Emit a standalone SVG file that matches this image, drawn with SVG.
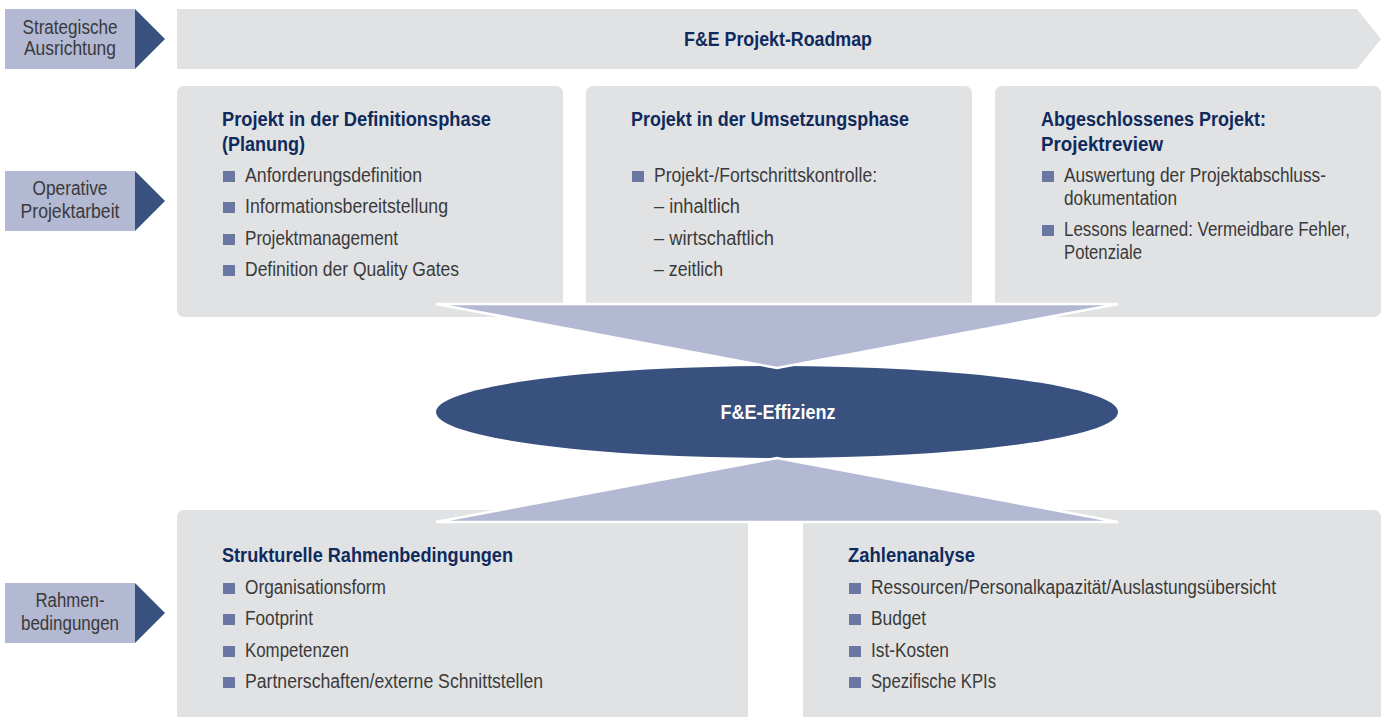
<svg xmlns="http://www.w3.org/2000/svg" width="1389" height="717" viewBox="0 0 1389 717">
  <style>
    .panel { fill: #e1e2e4; }
    .tag { fill: #b3b8d3; }
    .tip { fill: #38517f; }
    .funnel { fill: #b3b8d3; stroke: #ffffff; stroke-width: 2.5; stroke-linejoin: miter; }
    .hub { fill: #38517f; }
    text { font-family: "Liberation Sans", Arial, sans-serif; }
    .lbl { font-size: 19.5px; fill: #3a3a3a; text-anchor: middle; }
    .head { font-size: 20px; font-weight: bold; fill: #0f2a5c; }
    .body { font-size: 20px; fill: #3a3a3a; }
    .bul { fill: #6b77a3; }
    .hubtxt { font-size: 20px; font-weight: bold; fill: #ffffff; text-anchor: middle; }
  </style>

  <!-- row labels -->
  <g id="label-strategie">
    <rect class="tag" x="5" y="9" width="130" height="60"/>
    <polygon class="tip" points="135,9 165,39 135,69"/>
    <text class="lbl" x="70" y="34" textLength="95" lengthAdjust="spacingAndGlyphs">Strategische</text>
    <text class="lbl" x="70" y="55" textLength="92" lengthAdjust="spacingAndGlyphs">Ausrichtung</text>
  </g>
  <g id="label-operativ">
    <rect class="tag" x="5" y="171" width="130" height="60"/>
    <polygon class="tip" points="135,171 165,201 135,231"/>
    <text class="lbl" x="70" y="195" textLength="75" lengthAdjust="spacingAndGlyphs">Operative</text>
    <text class="lbl" x="70" y="218" textLength="99" lengthAdjust="spacingAndGlyphs">Projektarbeit</text>
  </g>
  <g id="label-rahmen">
    <rect class="tag" x="5" y="583" width="130" height="60"/>
    <polygon class="tip" points="135,583 165,613 135,643"/>
    <text class="lbl" x="70" y="607" textLength="69" lengthAdjust="spacingAndGlyphs">Rahmen-</text>
    <text class="lbl" x="70" y="630" textLength="98" lengthAdjust="spacingAndGlyphs">bedingungen</text>
  </g>

  <!-- roadmap band -->
  <g id="roadmap">
    <polygon class="panel" points="177,9 1357,9 1381,39 1357,69 177,69"/>
    <text class="head" x="778" y="46" text-anchor="middle" textLength="188" lengthAdjust="spacingAndGlyphs">F&amp;E Projekt-Roadmap</text>
  </g>

  <!-- project phase panels -->
  <g id="phase-definition">
    <rect class="panel" x="177" y="86" width="386" height="231" rx="7"/>
    <text class="head" x="222" y="126" textLength="269" lengthAdjust="spacingAndGlyphs">Projekt in der Definitionsphase</text>
    <text class="head" x="222" y="151" textLength="83" lengthAdjust="spacingAndGlyphs">(Planung)</text>
    <rect class="bul" x="223" y="171" width="12" height="11"/>
    <text class="body" x="245" y="182" textLength="177" lengthAdjust="spacingAndGlyphs">Anforderungsdefinition</text>
    <rect class="bul" x="223" y="202" width="12" height="11"/>
    <text class="body" x="245" y="213" textLength="203" lengthAdjust="spacingAndGlyphs">Informationsbereitstellung</text>
    <rect class="bul" x="223" y="234" width="12" height="11"/>
    <text class="body" x="245" y="245" textLength="153" lengthAdjust="spacingAndGlyphs">Projektmanagement</text>
    <rect class="bul" x="223" y="265" width="12" height="11"/>
    <text class="body" x="245" y="276" textLength="214" lengthAdjust="spacingAndGlyphs">Definition der Quality Gates</text>
  </g>

  <g id="phase-umsetzung">
    <rect class="panel" x="586" y="86" width="386" height="231" rx="7"/>
    <text class="head" x="631" y="126" textLength="278" lengthAdjust="spacingAndGlyphs">Projekt in der Umsetzungsphase</text>
    <rect class="bul" x="632" y="171" width="12" height="11"/>
    <text class="body" x="654" y="182" textLength="223" lengthAdjust="spacingAndGlyphs">Projekt-/Fortschrittskontrolle:</text>
    <text class="body" x="654" y="213" textLength="86" lengthAdjust="spacingAndGlyphs">– inhaltlich</text>
    <text class="body" x="654" y="245" textLength="120" lengthAdjust="spacingAndGlyphs">– wirtschaftlich</text>
    <text class="body" x="654" y="276" textLength="69" lengthAdjust="spacingAndGlyphs">– zeitlich</text>
  </g>

  <g id="phase-review">
    <rect class="panel" x="995" y="86" width="386" height="231" rx="7"/>
    <text class="head" x="1041" y="126" textLength="225" lengthAdjust="spacingAndGlyphs">Abgeschlossenes Projekt:</text>
    <text class="head" x="1041" y="151" textLength="122" lengthAdjust="spacingAndGlyphs">Projektreview</text>
    <rect class="bul" x="1042" y="171" width="12" height="11"/>
    <text class="body" x="1064" y="182" textLength="262" lengthAdjust="spacingAndGlyphs">Auswertung der Projektabschluss-</text>
    <text class="body" x="1064" y="205" textLength="113" lengthAdjust="spacingAndGlyphs">dokumentation</text>
    <rect class="bul" x="1042" y="225" width="12" height="11"/>
    <text class="body" x="1064" y="236" textLength="286" lengthAdjust="spacingAndGlyphs">Lessons learned: Vermeidbare Fehler,</text>
    <text class="body" x="1064" y="259" textLength="78" lengthAdjust="spacingAndGlyphs">Potenziale</text>
  </g>

  <!-- framework panels -->
  <g id="rahmen-struktur">
    <rect class="panel" x="177" y="510" width="571" height="214" rx="7"/>
    <text class="head" x="222" y="562" textLength="291" lengthAdjust="spacingAndGlyphs">Strukturelle Rahmenbedingungen</text>
    <rect class="bul" x="223" y="583" width="12" height="11"/>
    <text class="body" x="245" y="594" textLength="141" lengthAdjust="spacingAndGlyphs">Organisationsform</text>
    <rect class="bul" x="223" y="614" width="12" height="11"/>
    <text class="body" x="245" y="625" textLength="68" lengthAdjust="spacingAndGlyphs">Footprint</text>
    <rect class="bul" x="223" y="646" width="12" height="11"/>
    <text class="body" x="245" y="657" textLength="104" lengthAdjust="spacingAndGlyphs">Kompetenzen</text>
    <rect class="bul" x="223" y="677" width="12" height="11"/>
    <text class="body" x="245" y="688" textLength="298" lengthAdjust="spacingAndGlyphs">Partnerschaften/externe Schnittstellen</text>
  </g>

  <g id="rahmen-zahlen">
    <rect class="panel" x="803" y="510" width="578" height="214" rx="7"/>
    <text class="head" x="848" y="562" textLength="127" lengthAdjust="spacingAndGlyphs">Zahlenanalyse</text>
    <rect class="bul" x="849" y="583" width="12" height="11"/>
    <text class="body" x="871" y="594" textLength="405" lengthAdjust="spacingAndGlyphs">Ressourcen/Personalkapazität/Auslastungsübersicht</text>
    <rect class="bul" x="849" y="614" width="12" height="11"/>
    <text class="body" x="871" y="625" textLength="55" lengthAdjust="spacingAndGlyphs">Budget</text>
    <rect class="bul" x="849" y="646" width="12" height="11"/>
    <text class="body" x="871" y="657" textLength="78" lengthAdjust="spacingAndGlyphs">Ist-Kosten</text>
    <rect class="bul" x="849" y="677" width="12" height="11"/>
    <text class="body" x="871" y="688" textLength="125" lengthAdjust="spacingAndGlyphs">Spezifische KPIs</text>
  </g>

  <!-- central hub -->
  <g id="effizienz">
    <ellipse class="hub" cx="777" cy="412" rx="341" ry="46"/>
    <text class="hubtxt" x="778" y="419" textLength="115" lengthAdjust="spacingAndGlyphs">F&amp;E-Effizienz</text>
  </g>

  <!-- funnels feeding the hub -->
  <g id="connectors">
    <polygon class="funnel" points="436,304 1118,304 777,368"/>
    <polygon class="funnel" points="436,522 1118,522 777,458"/>
  </g>
</svg>
